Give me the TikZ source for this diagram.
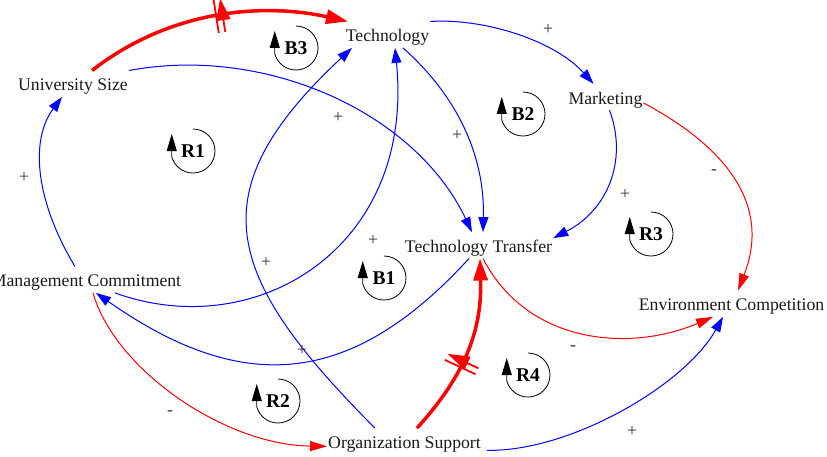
\documentclass[tikz,border=0pt]{standalone}
\usepackage{fontspec}
\setmainfont{Liberation Serif}
\usetikzlibrary{arrows.meta,decorations.markings}
\newcommand\cldnodefont{\fontsize{17.7}{20}\selectfont}
\newcommand\cldloopfont{\fontsize{19.5}{22}\selectfont\bfseries}
\newcommand\loopsign[4]{%
  \node[looplbl] (#1) at (#2,#3) {#4};
  \draw[looparc] ([shift={(90:22pt)}]#1.center) arc[start angle=90, end angle=-165, radius=22pt] -- ++(0,22.7pt);
}
\begin{document}
\begin{tikzpicture}[x=1pt,y=-1pt,
  var/.style={inner sep=0pt, inner xsep=1pt, text height=20pt, text depth=6pt, anchor=base, font=\cldnodefont, text=black!90},
  pol/.style={inner sep=0pt, font=\cldnodefont, text=black!80},
  poslink/.style={blue, line width=1pt, -{Triangle[length=15pt,width=10pt]}},
  neglink/.style={red, line width=1pt, -{Triangle[length=17pt,width=10pt]}},
  delaylink/.style={red, line width=3.5pt, -{Triangle[length=22pt,width=14pt]}},
  looplbl/.style={font=\cldloopfont, inner sep=0pt},
  looparc/.style={black, line width=0.8pt, -{Triangle[length=17pt,width=10pt]}},
  delaymark/.style={postaction={decorate, decoration={markings, mark=at position #1 with {%
     \fill[white] (-1.6pt,-17pt) rectangle (1.6pt,17pt);
     \draw[red, line width=1.8pt] (-3.3pt,-17pt) -- (-3.3pt,17pt) (3.3pt,-17pt) -- (3.3pt,17pt);}}}},
]
\useasboundingbox (0,0) rectangle (827,456);

% variables
\node[var] (tech) at (387.5,41.7) {Technology};
\node[var] (univ) at (73,90.7) {University Size};
\node[var] (mkt) at (605.5,104) {Marketing};
\node[var] (tt) at (478.5,252.3) {Technology Transfer};
\node[var] (mgmt) at (86,286.7) {Management Commitment};
\node[var] (env) at (731.5,310.7) {Environment Competition};
\node[var] (org) at (404.5,448.3) {Organization Support};

% links
\draw[delaylink, delaymark=0.52] ([xshift=19pt]univ.north) .. controls (175,6) and (270,4) .. ([xshift=-39.5pt]tech.north);
\draw[poslink] (univ.north east) .. controls (265,45) and (415,112) .. ([xshift=-6.5pt]tt.north);
\draw[poslink] ([xshift=-11pt]mgmt.north) .. controls (35,200) and (30,140) .. ([xshift=-11pt]univ.south);
\draw[poslink] ([xshift=29pt]mgmt.south) .. controls (256,344) and (415,248) .. ([xshift=7.5pt]tech.south);
\draw[poslink] ([xshift=-9.5pt]tt.south) .. controls (348,391) and (239,393) .. ([xshift=10pt]mgmt.south);
\draw[poslink] ([xshift=15.5pt]tech.south) .. controls (455,94) and (485,153) .. ([xshift=4.5pt]tt.north);
\draw[poslink] (tech.north east) .. controls (481,18) and (553,39) .. ([xshift=-12pt]mkt.north);
\draw[poslink] ([xshift=4pt]mkt.south) .. controls (628,160) and (608,210) .. ([yshift=-6pt]tt.north east);
\draw[neglink] ([yshift=-6pt]mkt.east) .. controls (715,141) and (774,198) .. ([xshift=6.5pt]env.north);
\draw[neglink] ([xshift=4.5pt]tt.south) .. controls (528,345) and (630,352) .. ([xshift=-18.5pt]env.south);
\draw[delaylink, delaymark=0.42] ([xshift=12.5pt]org.north) .. controls (467,373) and (482,328) .. ([xshift=1.5pt]tt.south);
\draw[poslink] ([xshift=5pt,yshift=-9pt]org.east) .. controls (570,452) and (685,385) .. ([xshift=-8.5pt]env.south);
\draw[neglink] ([xshift=7pt]mgmt.south) .. controls (115,370) and (225,445) .. ([yshift=-5pt]org.west);
\draw[poslink] ([xshift=-29.5pt]org.north) .. controls (221,274) and (199,191) .. ([xshift=-35.5pt]tech.south);

% polarities
\node[pol] (p1) at (338,117) {+};
\node[pol] (p2) at (24,177) {+};
\node[pol] (p3) at (548,29) {+};
\node[pol] (p4) at (457,135) {+};
\node[pol] (p5) at (714,172) {-};
\node[pol] (p6) at (625,194) {+};
\node[pol] (p7) at (373,240) {+};
\node[pol] (p8) at (266,262) {+};
\node[pol] (p9) at (302,350) {+};
\node[pol] (p10) at (170,413) {-};
\node[pol] (p11) at (573,348) {-};
\node[pol] (p12) at (632,431) {+};

% loops
\loopsign{lr1}{193}{151}{R1}
\loopsign{lb3}{296}{48}{B3}
\loopsign{lb2}{523}{114}{B2}
\loopsign{lr3}{651}{234}{R3}
\loopsign{lb1}{384}{278}{B1}
\loopsign{lr2}{278}{401}{R2}
\loopsign{lr4}{528}{375}{R4}
\end{tikzpicture}
\end{document}
